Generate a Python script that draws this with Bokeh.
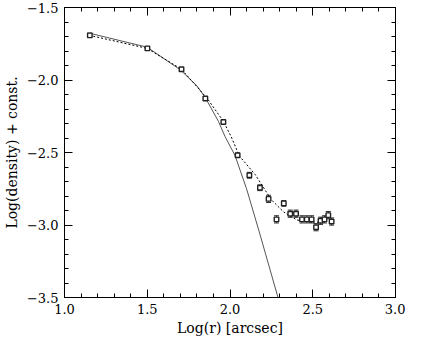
from bokeh.plotting import figure
from bokeh.models import (LinearAxis, SingleIntervalTicker, Range1d, Whisker,
                          ColumnDataSource, CustomJSTickFormatter, TeeHead)
from bokeh.embed import file_html
from bokeh.resources import INLINE

# observed points
log_r = [1.153, 1.501, 1.707, 1.851, 1.960, 2.046, 2.117, 2.181, 2.233, 2.281,
         2.325, 2.364, 2.399, 2.435, 2.464, 2.493, 2.520, 2.547, 2.571, 2.594, 2.614]
log_dens = [-1.692, -1.782, -1.926, -2.128, -2.290, -2.519, -2.657, -2.743, -2.820, -2.961,
            -2.851, -2.922, -2.922, -2.961, -2.961, -2.961, -3.015, -2.971, -2.961, -2.932, -2.976]
err = [0.015, 0.010, 0.010, 0.010, 0.010, 0.015, 0.020, 0.020, 0.025, 0.025,
       0.020, 0.025, 0.025, 0.025, 0.025, 0.025, 0.025, 0.025, 0.025, 0.025, 0.025]

# model curves
solid_x = [1.15, 1.50, 1.70, 1.80, 1.85, 1.93, 1.97, 2.03, 2.10, 2.175, 2.23, 2.29, 2.30]
solid_y = [-1.677, -1.774, -1.930, -2.040, -2.120, -2.285, -2.390, -2.520, -2.750, -3.040, -3.260, -3.500, -3.545]
dot_x = [1.15, 1.50, 1.707, 1.863, 1.96, 2.008, 2.056, 2.152, 2.249, 2.325, 2.403, 2.480, 2.518, 2.55]
dot_y = [-1.692, -1.782, -1.926, -2.128, -2.285, -2.393, -2.523, -2.652, -2.825, -2.911, -2.965, -2.980, -2.980, -2.980]

FONT = "DejaVu Serif"

p = figure(width=405, height=338, output_backend="svg", toolbar_location=None,
           x_range=Range1d(1.0, 3.0), y_range=Range1d(-3.5, -1.5),
           min_border_left=56, min_border_right=10, min_border_top=7, min_border_bottom=0)
p.xaxis.visible = False
p.yaxis.visible = False
p.grid.visible = False
p.outline_line_color = "black"
p.outline_line_width = 1
p.background_fill_color = "white"

fmt_code = "return tick.toFixed(1).replace('-', '\u2212');"

def style(ax, labels=True):
    ax.major_tick_in = 8
    ax.major_tick_out = 0
    ax.minor_tick_in = 4
    ax.minor_tick_out = 0
    ax.axis_line_color = "black"
    ax.major_tick_line_color = "black"
    ax.minor_tick_line_color = "black"
    ax.major_label_text_font = FONT
    ax.major_label_text_font_size = "13px"
    ax.major_label_text_color = "black"
    ax.axis_label_text_font = FONT
    ax.axis_label_text_font_size = "14px"
    ax.axis_label_text_font_style = "normal"
    ax.axis_label_text_color = "black"
    if labels:
        ax.formatter = CustomJSTickFormatter(code=fmt_code)
    else:
        ax.formatter = CustomJSTickFormatter(code="return '';")
        ax.major_label_standoff = 0
        ax.major_label_text_font_size = "0px"

bx = LinearAxis(ticker=SingleIntervalTicker(interval=0.5, num_minor_ticks=5),
                axis_label="Log(r) [arcsec]")
style(bx)
bx.major_label_standoff = 6
bx.axis_label_standoff = 3
p.add_layout(bx, "below")
ly = LinearAxis(ticker=SingleIntervalTicker(interval=0.5, num_minor_ticks=5),
                axis_label="Log(density) + const.")
style(ly)
ly.major_label_standoff = 6
ly.axis_label_standoff = 4
p.add_layout(ly, "left")
tx = LinearAxis(ticker=SingleIntervalTicker(interval=0.5, num_minor_ticks=5))
style(tx, labels=False)
p.add_layout(tx, "above")
ry = LinearAxis(ticker=SingleIntervalTicker(interval=0.5, num_minor_ticks=5))
style(ry, labels=False)
p.add_layout(ry, "right")

p.line(solid_x, solid_y, line_color="#555555", line_width=1)
p.line(dot_x, dot_y, line_color="black", line_width=1, line_dash="2 2")

src = ColumnDataSource(dict(x=log_r, y=log_dens,
                            lo=[v - e for v, e in zip(log_dens, err)],
                            hi=[v + e for v, e in zip(log_dens, err)]))
w = Whisker(source=src, base="x", lower="lo", upper="hi", dimension="height",
            line_color="#333333", line_width=1,
            upper_head=TeeHead(size=5, line_color="#333333", line_width=1),
            lower_head=TeeHead(size=5, line_color="#333333", line_width=1))
p.add_layout(w)
p.scatter("x", "y", source=src, marker="square", size=4.5, fill_color="white",
          line_color="#222222", line_width=1.4)

open("out.html", "w").write(file_html(p, INLINE))
